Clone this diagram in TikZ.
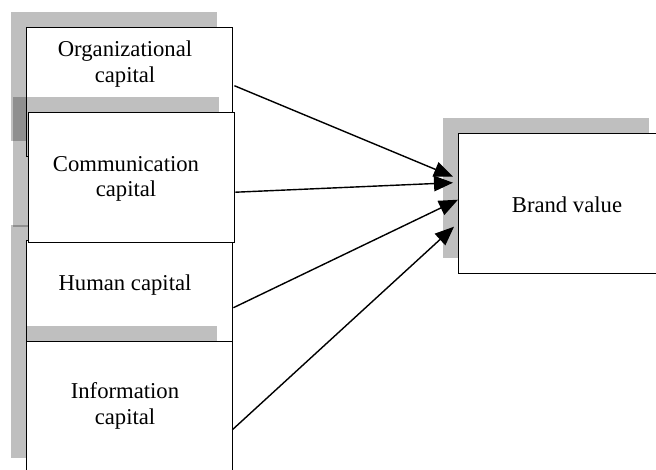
\documentclass[tikz,border=0pt]{standalone}
\usepackage{fontspec}
\setmainfont{Liberation Serif}
\usetikzlibrary{shadows,arrows.meta,calc}

\tikzset{
  capbox/.style={draw=black, line width=0.8pt, fill=white, minimum width=4.12cm,
    anchor=north west, inner sep=0pt,
    general shadow={fill=black, opacity=0.25, shadow xshift=-0.32cm, shadow yshift=0.32cm}},
  captext/.style={align=center, inner sep=0pt, font=\fontsize{12.9}{14.5}\selectfont},
  link/.style={line width=0.8pt, -{Triangle[length=3.8mm,width=3.1mm]}}
}

\begin{document}
\begin{tikzpicture}[scale=0.2]
	\useasboundingbox (0,0) rectangle (65.6,-46.9);
	\clip (0,0) rectangle (65.6,-46.9);
	% left column, drawn in stacking order
	\node[capbox, minimum height=2.58cm] (org) at (2.6,-2.7) {};
	\node[captext] (orgtext) at (12.5,-6.4) {Organizational\\capital};
	\node[capbox, minimum height=2.02cm] (hum) at (2.6,-24.0) {};
	\node[captext] (humtext) at (12.5,-28.5) {Human capital};
	\node[capbox, minimum height=2.6cm] (com) at (2.8,-11.2) {};
	\node[captext] (comtext) at (12.6,-17.9) {Communication\\capital};
	\node[capbox, minimum height=2.64cm] (inf) at (2.6,-34.1) {};
	\node[captext] (inftext) at (12.5,-40.6) {Information\\capital};
	% target
	\node[capbox, minimum height=2.8cm] (brand) at (45.8,-13.3) {};
	\node[captext] (brandtext) at (56.7,-20.5) {Brand value};
	% links
	\draw[link] ($(org.east)+(0.1,0.65)$) -- ($(brand.west)+(-0.5,2.7)$);
	\draw[link] ($(com.east)+(0,-1.45)$) -- ($(brand.west)+(-0.5,2.1)$);
	\draw[link] ($(hum.east)+(0,-1.65)$) -- ($(brand.west)+(0,0.4)$);
	\draw[link] ($(inf.east)+(-0.1,-2.2)$) -- ($(brand.west)+(-0.4,-2.3)$);
\end{tikzpicture}
\end{document}
